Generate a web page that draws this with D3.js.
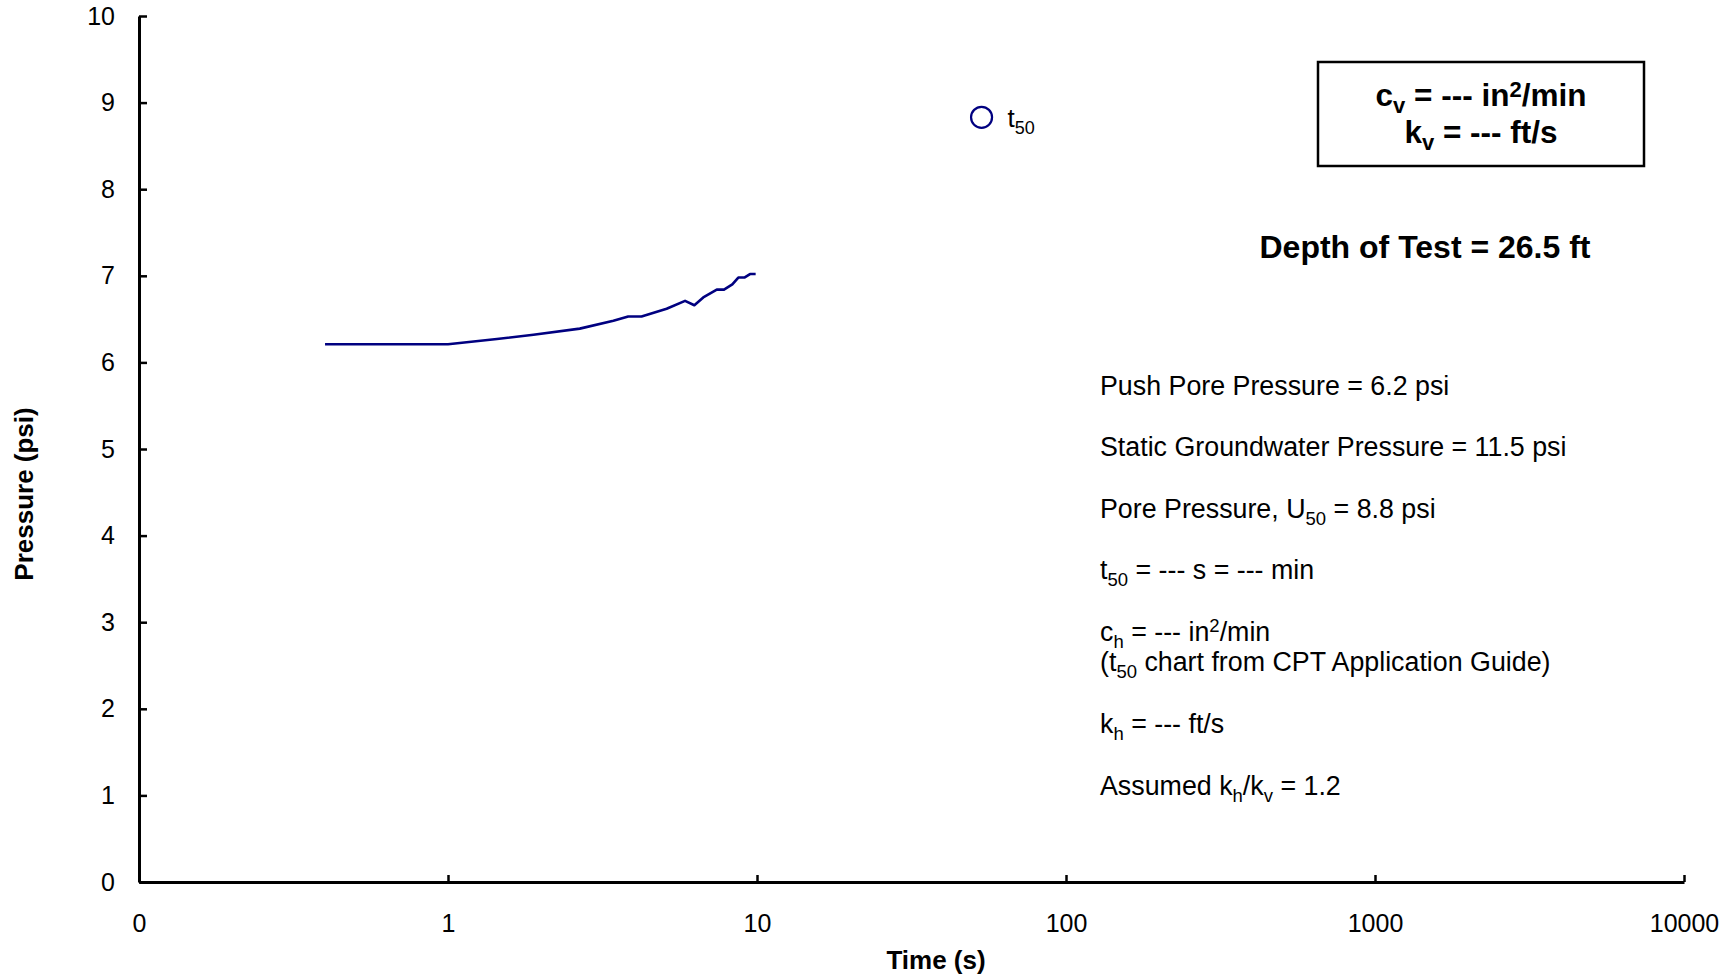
<!DOCTYPE html>
<html>
<head>
<meta charset="utf-8">
<script src="https://cdn.jsdelivr.net/npm/d3@7"></script>
<style>
  body { margin: 0; background: #fff; }
  svg { display: block; font-family: "Liberation Sans", Arial, Helvetica, sans-serif; }
</style>
</head>
<body>
<div id="chart"></div>
<script>
// dissipation readings (time in seconds, pore pressure in psi)
const timeS = [0.4, 1.0, 1.44, 1.89, 2.67, 3.43, 3.83, 4.23, 5.10, 5.85, 6.27, 6.70, 7.41, 7.82, 8.32, 8.70, 9.10, 9.49, 9.90];
const pressurePsi = [6.21, 6.21, 6.27, 6.32, 6.39, 6.48, 6.53, 6.53, 6.62, 6.71, 6.66, 6.75, 6.84, 6.84, 6.90, 6.98, 6.98, 7.02, 7.02];

// t50 marker
const t50Time = [53.3];
const u50Psi = [8.83];

const xTicks = [0.1, 1, 10, 100, 1000, 10000];
const yTicks = [0, 1, 2, 3, 4, 5, 6, 7, 8, 9, 10];

// text block on the right: each line is a list of [text, mode] pieces
const infoLines = [
  [["Push Pore Pressure = 6.2 psi", ""]],
  [["Static Groundwater Pressure = 11.5 psi", ""]],
  [["Pore Pressure, U", ""], ["50", "sub"], [" = 8.8 psi", ""]],
  [["t", ""], ["50", "sub"], [" = --- s = --- min", ""]],
  [["c", ""], ["h", "sub"], [" = --- in", ""], ["2", "sup"], ["/min", ""]],
  [["(t", ""], ["50", "sub"], [" chart from CPT Application Guide)", ""]],
  [["k", ""], ["h", "sub"], [" = --- ft/s", ""]],
  [["Assumed k", ""], ["h", "sub"], ["/k", ""], ["v", "sub"], [" = 1.2", ""]]
];
const infoBaselines = [395, 456, 518, 579, 641, 671, 733, 795];

const boxLines = [
  [["c", ""], ["v", "sub"], [" = --- in", ""], ["2", "sup"], ["/min", ""]],
  [["k", ""], ["v", "sub"], [" = --- ft/s", ""]]
];

const width = 1733, height = 977;
const margin = { top: 16, right: 49, bottom: 95, left: 139 };

const svg = d3.select("#chart").append("svg")
  .attr("width", width)
  .attr("height", height);

const x = d3.scaleLog()
  .domain([0.1, 10000])
  .range([margin.left, width - margin.right]);

const y = d3.scaleLinear()
  .domain([0, 10])
  .range([height - margin.bottom, margin.top]);

// axes, ticks point inward
const gx = svg.append("g")
  .attr("transform", `translate(0,${height - margin.bottom})`)
  .call(d3.axisBottom(x)
    .tickValues(xTicks)
    .tickSizeInner(-7)
    .tickSizeOuter(0)
    .tickPadding(32)
    .tickFormat(d => d < 1 ? "0" : d3.format("d")(d)));

const gy = svg.append("g")
  .attr("transform", `translate(${margin.left},0)`)
  .call(d3.axisLeft(y)
    .tickValues(yTicks)
    .tickSizeInner(-8)
    .tickSizeOuter(0)
    .tickPadding(24)
    .tickFormat(d3.format("d")));

[gx, gy].forEach(g => {
  g.select(".domain").attr("stroke", "#000").attr("stroke-width", 3);
  g.selectAll(".tick line").attr("stroke", "#000").attr("stroke-width", 2.5);
  g.selectAll(".tick text")
    .attr("fill", "#000")
    .style("font-size", "25px")
    .style("font-family", "'Liberation Sans', Arial, sans-serif");
});

// axis titles
svg.append("text")
  .attr("x", 936)
  .attr("y", 969)
  .attr("text-anchor", "middle")
  .style("font-size", "26px")
  .style("font-weight", "bold")
  .text("Time (s)");

svg.append("text")
  .attr("transform", "translate(33,494) rotate(-90)")
  .attr("text-anchor", "middle")
  .style("font-size", "26px")
  .style("font-weight", "bold")
  .text("Pressure (psi)");

// pressure curve
const pts = timeS.map((t, i) => ({ t, p: pressurePsi[i] }));
svg.append("path")
  .datum(pts)
  .attr("fill", "none")
  .attr("stroke", "#000080")
  .attr("stroke-width", 2.6)
  .attr("stroke-linejoin", "round")
  .attr("d", d3.line().x(d => x(d.t)).y(d => y(d.p)));

// t50 marker + label
svg.append("circle")
  .attr("cx", x(t50Time[0]))
  .attr("cy", y(u50Psi[0]))
  .attr("r", 10.5)
  .attr("fill", "none")
  .attr("stroke", "#000080")
  .attr("stroke-width", 2.2);

// helper: write a line with sub/superscripts as tspans
function richText(sel, parts, size, subSize) {
  let shift = 0;
  parts.forEach(([txt, mode]) => {
    const target = mode === "sub" ? 7 : mode === "sup" ? -9 : 0;
    sel.append("tspan")
      .attr("dy", target - shift)
      .style("font-size", (mode ? subSize : size) + "px")
      .text(txt);
    shift = target;
  });
}

richText(
  svg.append("text").attr("x", x(t50Time[0]) + 26).attr("y", 127),
  [["t", ""], ["50", "sub"]], 26, 18
);

// box with vertical consolidation values
svg.append("rect")
  .attr("x", 1318).attr("y", 62)
  .attr("width", 326).attr("height", 104)
  .attr("fill", "#fff")
  .attr("stroke", "#000")
  .attr("stroke-width", 2.5);

boxLines.forEach((parts, i) => {
  const t = svg.append("text")
    .attr("x", 1481)
    .attr("y", 106 + i * 37)
    .attr("text-anchor", "middle")
    .style("font-weight", "bold");
  richText(t, parts, 31.5, 22);
});

svg.append("text")
  .attr("x", 1425)
  .attr("y", 258)
  .attr("text-anchor", "middle")
  .style("font-size", "32px")
  .style("font-weight", "bold")
  .text("Depth of Test = 26.5 ft");

infoLines.forEach((parts, i) => {
  const t = svg.append("text")
    .attr("x", 1100)
    .attr("y", infoBaselines[i]);
  richText(t, parts, 26.8, 18.5);
});
</script>
</body>
</html>
